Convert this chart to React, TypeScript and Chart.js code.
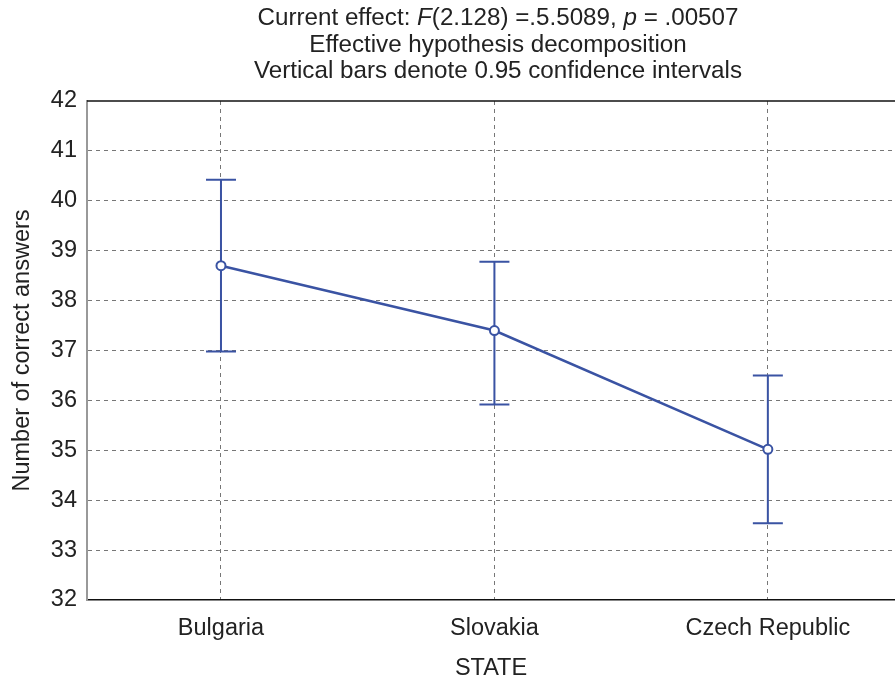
import React, { useEffect, useRef } from "react";
import { Chart, registerables } from "chart.js";

Chart.register(...registerables);

const categories = ["Bulgaria", "Slovakia", "Czech Republic"];
const means = [38.7, 37.4, 35.02];
const ciUpper = [40.42, 38.78, 36.5];
const ciLower = [36.98, 35.92, 33.54];
const yTicks = [32, 33, 34, 35, 36, 37, 38, 39, 40, 41, 42];

const titleLines: { text: string; italic?: boolean }[][] = [
  [
    { text: "Current effect: " },
    { text: "F", italic: true },
    { text: "(2.128) =.5.5089, " },
    { text: "p", italic: true },
    { text: " = .00507" },
  ],
  [{ text: "Effective hypothesis decomposition" }],
  [{ text: "Vertical bars denote 0.95 confidence intervals" }],
];

const BLUE = "#3a53a3";
const FONT = "'Liberation Sans', Arial, sans-serif";
const FS = 23.5;
const TFS = 24.2;

const titlePlugin = {
  id: "mixedTitle",
  afterDraw(chart: any) {
    const { ctx } = chart;
    const cx = 498;
    const ys = [18.5, 45, 71.5];
    ctx.save();
    ctx.fillStyle = "#222";
    ctx.textBaseline = "middle";
    ctx.textAlign = "left";
    titleLines.forEach((segs, li) => {
      let total = 0;
      const widths = segs.map((s) => {
        ctx.font = `${s.italic ? "italic " : ""}${TFS}px ${FONT}`;
        const w = ctx.measureText(s.text).width;
        total += w;
        return w;
      });
      let x = cx - total / 2;
      segs.forEach((s, i) => {
        ctx.font = `${s.italic ? "italic " : ""}${TFS}px ${FONT}`;
        ctx.fillText(s.text, x, ys[li]);
        x += widths[i];
      });
    });
    ctx.restore();
  },
};

const framePlugin = {
  id: "frame",
  afterDatasetsDraw(chart: any) {
    const { ctx, chartArea } = chart;
    ctx.save();
    ctx.strokeStyle = "#111";
    ctx.lineWidth = 1.5;
    ctx.beginPath();
    ctx.moveTo(chartArea.left, chartArea.top);
    ctx.lineTo(chartArea.right, chartArea.top);
    ctx.stroke();
    ctx.restore();
  },
};

const errorBarPlugin = {
  id: "errorBars",
  beforeDatasetsDraw(chart: any) {
    const { ctx, scales } = chart;
    const xs = scales.x;
    const ys = scales.y;
    ctx.save();
    ctx.strokeStyle = BLUE;
    ctx.lineWidth = 2;
    categories.forEach((_, i) => {
      const x = xs.getPixelForValue(i);
      const yU = ys.getPixelForValue(ciUpper[i]);
      const yL = ys.getPixelForValue(ciLower[i]);
      ctx.beginPath();
      ctx.moveTo(x, yU);
      ctx.lineTo(x, yL);
      ctx.moveTo(x - 15, yU);
      ctx.lineTo(x + 15, yU);
      ctx.moveTo(x - 15, yL);
      ctx.lineTo(x + 15, yL);
      ctx.stroke();
    });
    ctx.restore();
  },
};

export default function App() {
  const ref = useRef<HTMLCanvasElement | null>(null);
  useEffect(() => {
    if (!ref.current) return;
    const chart = new Chart(ref.current, {
      type: "line",
      data: {
        datasets: [
          {
            data: means.map((m, i) => ({ x: i, y: m })),
            borderColor: BLUE,
            borderWidth: 2.5,
            pointRadius: 4.5,
            pointBackgroundColor: "#fff",
            pointBorderColor: BLUE,
            pointBorderWidth: 2,
            tension: 0,
            clip: false,
          },
        ],
      },
      options: {
        animation: false,
        responsive: false,
        layout: { autoPadding: false, padding: { top: 101, left: 0, right: 0, bottom: 0 } },
        plugins: {
          legend: { display: false },
          tooltip: { enabled: false },
          title: { display: false },
        },
        scales: {
          x: {
            type: "linear",
            min: -0.49,
            max: 2.465,
            afterBuildTicks: (scale: any) => {
              scale.ticks = categories.map((_, i) => ({ value: i }));
            },
            afterFit: (scale: any) => {
              scale.height = 80;
              scale.paddingLeft = 0;
              scale.paddingRight = 0;
            },
            ticks: {
              callback: (v: any) => categories[v as number] ?? "",
              font: { family: FONT, size: FS },
              color: "#222",
              padding: 14,
              maxRotation: 0,
              autoSkip: false,
            },
            grid: { color: "#777", lineWidth: 1, drawTicks: false },
            border: { color: "#111", width: 1.5, dash: [4, 4] },
            title: {
              display: true,
              text: "STATE",
              font: { family: FONT, size: FS },
              color: "#222",
              padding: { top: 0, bottom: -3 },
            },
          },
          y: {
            min: 32,
            max: 42,
            afterBuildTicks: (scale: any) => {
              scale.ticks = yTicks.map((v) => ({ value: v }));
            },
            afterFit: (scale: any) => {
              scale.width = 87;
            },
            ticks: {
              font: { family: FONT, size: FS },
              color: "#222",
              padding: 10,
            },
            grid: {
              color: (c: any) =>
                c.tick && (c.tick.value === 32 || c.tick.value === 42) ? "rgba(0,0,0,0)" : "#777",
              lineWidth: 1,
              drawTicks: false,
            },
            border: { color: "#999", width: 2, dash: [4, 4] },
            title: {
              display: true,
              text: "Number of correct answers",
              font: { family: FONT, size: FS },
              color: "#222",
              padding: { top: 8, bottom: 0 },
            },
          },
        },
      },
      plugins: [errorBarPlugin, framePlugin, titlePlugin],
    } as any);
    return () => chart.destroy();
  }, []);
  return (
    <div style={{ position: "fixed", left: 0, top: 0, width: 895, height: 680, background: "#fff" }}>
      <canvas ref={ref} width={895} height={680} style={{ width: 895, height: 680 }} />
    </div>
  );
}
